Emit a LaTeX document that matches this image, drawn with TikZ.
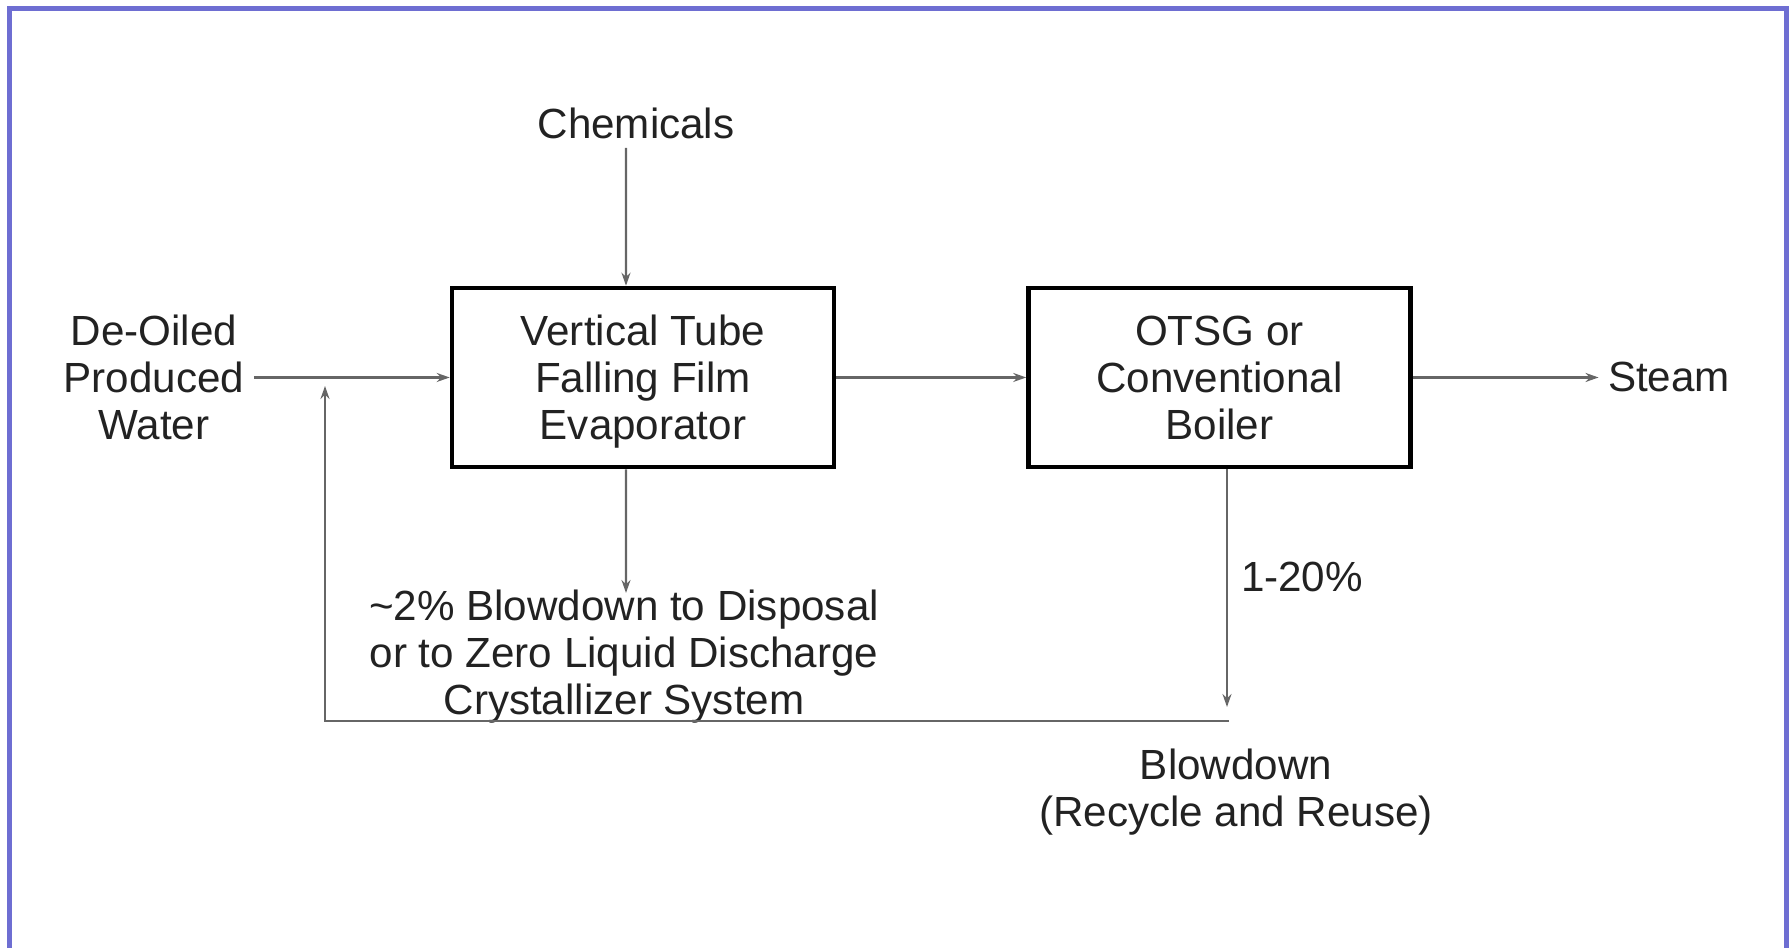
\documentclass[tikz,border=0pt]{standalone}
\usepackage{fontspec}
\setmainfont{Liberation Sans}
\usetikzlibrary{arrows.meta}
\definecolor{frame}{RGB}{110,110,210}
\definecolor{ink}{RGB}{34,34,34}

\begin{document}
\begin{tikzpicture}[
  unit/.style = {draw=black, line width=1.3pt, minimum width=3.82cm, minimum height=1.79cm, align=center, inner sep=0pt, text depth=0pt},
  lbl/.style = {align=center, inner sep=2.5pt},
  flow/.style = {draw=black!60, line width=0.6pt, -{Stealth[length=1.3mm,width=0.9mm]}},
  font=\fontsize{12}{13.4}\selectfont, text=ink]
\useasboundingbox (0,0) rectangle (17.89,9.48);
\draw[frame, line width=0.05cm] (0.095,0) -- (0.095,9.395) -- (17.865,9.395) -- (17.865,0);

% units
\node[unit] (evap) at (6.43, 5.705) {Vertical Tube\\Falling Film\\Evaporator};
\node[unit] (boiler) at (12.195, 5.705) {OTSG or\\Conventional\\Boiler};

% streams
\node[lbl] (water) at (1.54, 5.705) {De-Oiled\\Produced\\Water};
\node[lbl] (chem) at (6.36, 8.25) {Chemicals};
\node[lbl] (steam) at (16.69, 5.705) {Steam};
\node[lbl] (disp) at (6.24, 2.91) {\textasciitilde2\% Blowdown to Disposal\\or to Zero Liquid Discharge\\Crystallizer System};
\node[lbl] (pct) at (13.02, 3.71) {1-20\%};
\node[lbl] (recyc) at (12.36, 1.56) {Blowdown\\(Recycle and Reuse)};

\coordinate (mix) at (3.25, 5.62);
\coordinate (ret) at (3.25, 2.27);
\coordinate (bd) at (12.29, 2.27);
\coordinate (bdend) at (12.27, 2.41);
\coordinate (dispend) at (6.26, 3.55);

\draw[flow] (water) -- (evap);
\draw[flow] ([xshift=-1mm]chem.south) -- ([xshift=-1.7mm]evap.north);
\draw[flow] (evap) -- (boiler);
\draw[flow] (boiler) -- (steam);
\draw[flow] ([xshift=-1.7mm]evap.south) -- (dispend);
\draw[flow] (boiler.south -| bdend) -- (bdend);
\draw[flow] (bd) -- (ret) -- (mix);
\end{tikzpicture}
\end{document}
